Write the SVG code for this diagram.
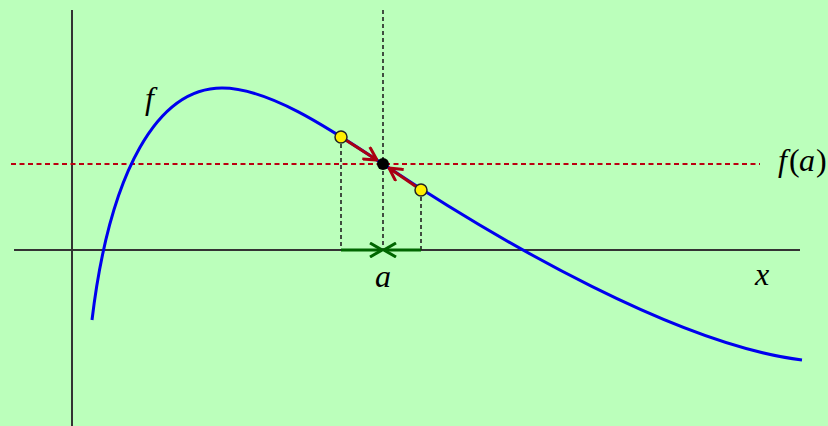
<svg xmlns="http://www.w3.org/2000/svg" width="828" height="426" viewBox="0 0 828 426">
<style>
.axis{stroke:#333;stroke-width:2;fill:none}
.dot{stroke:#222;stroke-width:1.6;stroke-dasharray:4,3;fill:none}
.rdot{stroke:#bb0011;stroke-width:2;stroke-dasharray:5,3.5;fill:none}
.curve{stroke:#0000ee;stroke-width:3;fill:none}
.red{stroke:#aa0011;stroke-width:3;fill:none}
.green{stroke:#006600;stroke-width:3;fill:none}
.lbl{font-family:"Liberation Serif",serif;font-style:italic;font-size:32px;fill:#000}
</style>
<defs>
<marker id="ar" viewBox="0 0 16 16" refX="15" refY="8" markerWidth="16" markerHeight="16" markerUnits="userSpaceOnUse" orient="auto"><path d="M2,1 L15,8 L2,15" fill="none" stroke="#aa0011" stroke-width="3"/></marker>
<marker id="ag" viewBox="0 0 16 16" refX="15" refY="8" markerWidth="16" markerHeight="16" markerUnits="userSpaceOnUse" orient="auto"><path d="M3,1 L15,8 L3,15" fill="none" stroke="#006600" stroke-width="3"/></marker>
</defs>
<rect width="828" height="426" fill="#bbffbb"/>
<g id="axes">
<line class="axis" x1="72" y1="10" x2="72" y2="426"/>
<line class="axis" x1="14" y1="250" x2="800" y2="250"/>
</g>
<g id="guides">
<line class="rdot" x1="11" y1="164" x2="760" y2="164"/>
<line class="dot" x1="383" y1="10" x2="383" y2="250"/>
<line class="dot" x1="341" y1="137" x2="341" y2="250"/>
<line class="dot" x1="421" y1="190" x2="421" y2="250"/>
</g>
<g id="curve">
<path class="curve" d="M92,320 C110,170 158,88 222,88 C270,88 333,131 383,164 C503,244 680,345 802,360"/>
</g>
<g id="connectors">
<line class="green" x1="341" y1="250" x2="382" y2="250" marker-end="url(#ag)"/>
<line class="green" x1="421" y1="250" x2="384" y2="250" marker-end="url(#ag)"/>
<line class="red" x1="341" y1="137" x2="377" y2="160" marker-end="url(#ar)"/>
<line class="red" x1="421" y1="190" x2="389" y2="168" marker-end="url(#ar)"/>
</g>
<g id="points">
<circle cx="341" cy="137" r="6" fill="#ffee00" stroke="#222" stroke-width="1.5"/>
<circle cx="421" cy="190" r="6" fill="#ffee00" stroke="#222" stroke-width="1.5"/>
<circle cx="383" cy="164" r="6" fill="#000"/>
</g>
<g id="labels">
<text class="lbl" x="145" y="109">f</text>
<text class="lbl" y="171"><tspan x="778">f</tspan><tspan x="789" font-style="normal">(</tspan><tspan x="799">a</tspan><tspan x="816" font-style="normal">)</tspan></text>
<text class="lbl" x="375" y="287">a</text>
<text class="lbl" x="755" y="285">x</text>
</g>
</svg>
